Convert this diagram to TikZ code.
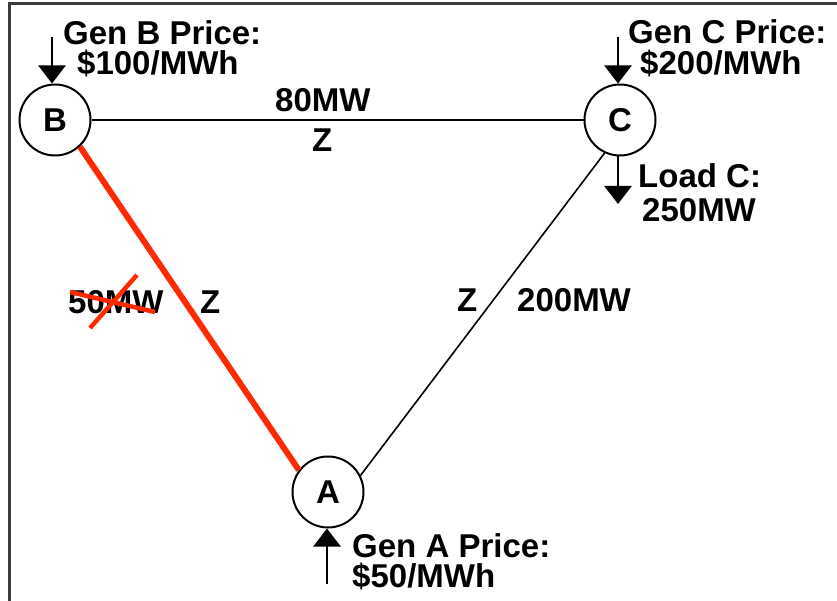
\documentclass[tikz,border=0pt]{standalone}
\usepackage{fontspec}
\setmainfont{Liberation Sans}
\usetikzlibrary{arrows.meta}
\definecolor{lineCut}{HTML}{FF2A00}
\definecolor{frameGrey}{HTML}{3C3C3C}

\begin{document}
\begin{tikzpicture}[x=1pt,y=-1pt,
  bus/.style={circle,draw=black,fill=white,line width=2pt,minimum size=71pt,inner sep=0pt,font=\fontsize{33}{33}\selectfont\bfseries},
  lbl/.style={anchor=base west,inner sep=0pt,font=\fontsize{33}{33}\selectfont\bfseries},
  inj/.style={line width=2.5pt,-{Triangle[width=27pt,length=18pt]}}
]
  \useasboundingbox (0,0) rectangle (837,601);

  % --- frame (only top and left edges show) ---
  \coordinate (frTR) at (837,4);
  \coordinate (frTL) at (9,4);
  \coordinate (frBL) at (9,601);
  \draw[frameGrey,line width=3pt] (frTR) -- (frTL) -- (frBL);

  % --- buses ---
  \node[bus] (B) at (55,120)  {B};
  \node[bus] (C) at (620,120) {C};
  \node[bus] (A) at (328,492) {A};

  % --- lines ---
  \draw[line width=2.5pt] (B) -- (C);
  \draw[line width=1.6pt] (C.-115) -- (A.27);
  \draw[lineCut,line width=6pt] (B.-47) -- (A.143);

  % --- injections and load ---
  \coordinate (genBin) at (52,37);
  \coordinate (genCin) at (618,37);
  \coordinate (loadC)  at (618,204);
  \coordinate (genAin) at (327,584);
  \draw[inj] (genBin) -- (genBin |- B.north);
  \draw[inj] (genCin) -- (genCin |- C.north);
  \draw[inj] (loadC |- C.south) -- (loadC);
  \draw[inj] (genAin) -- (genAin |- A.south);

  % --- price and load labels ---
  \node[lbl] (genBt) at (63,45)   {Gen B Price:};
  \node[lbl] (genBp) at (77,75)   {\$100/MWh};
  \node[lbl] (genCt) at (628,44)  {Gen C Price:};
  \node[lbl] (genCp) at (640,75)  {\$200/MWh};
  \node[lbl] (loadCt) at (638,188) {Load C:};
  \node[lbl] (loadCp) at (642,222) {250MW};
  \node[lbl] (genAt) at (352,557) {Gen A Price:};
  \node[lbl] (genAp) at (352,587) {\$50/MWh};

  % --- line flows and impedances ---
  \node[lbl] (fBC) at (275,112) {80MW};
  \node[lbl] (zBC) at (312,152) {Z};
  \node[lbl] (fBA) at (68,313)  {50MW};
  \node[lbl] (zBA) at (200,313) {Z};
  \node[lbl] (zCA) at (457,312) {Z};
  \node[lbl] (fCA) at (517,312) {200MW};

  % --- struck-out flow on the red line ---
  \coordinate (xa1) at (70,292);
  \coordinate (xa2) at (155,312);
  \coordinate (xb1) at (90,328);
  \coordinate (xb2) at (137,275);
  \draw[lineCut,line width=4.5pt] (xa1) -- (xa2);
  \draw[lineCut,line width=4.5pt] (xb1) -- (xb2);
\end{tikzpicture}
\end{document}
